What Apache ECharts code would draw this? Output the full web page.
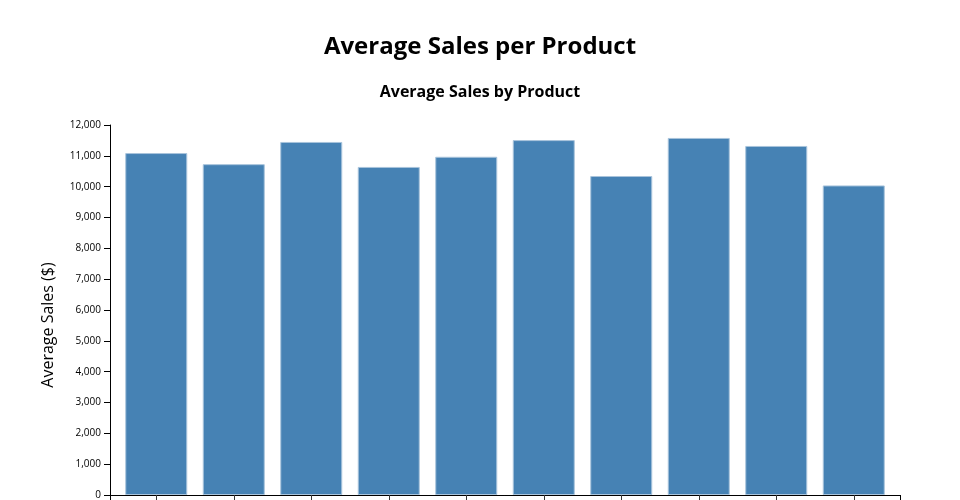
<!DOCTYPE html>
<html>
<head>
<meta charset="utf-8">
<script src="https://cdn.jsdelivr.net/npm/echarts@6/dist/echarts.min.js"></script>
<style>html,body{margin:0;padding:0;background:#fff}#chart{width:960px;height:500px}</style>
</head>
<body>
<div id="chart"></div>
<script>
const categories = ["Product A","Product B","Product C","Product D","Product E","Product F","Product G","Product H","Product I","Product J"];
const avgSales = [11090, 10730, 11450, 10640, 10970, 11510, 10345, 11580, 11320, 10040];
const yTicks = { min: 0, max: 12000, step: 1000 };
const mainTitle = "Average Sales per Product";
const subTitle = "Average Sales by Product";
const yAxisTitle = "Average Sales ($)";

const FONT = "'Open Sans', sans-serif";
const chart = echarts.init(document.getElementById('chart'), null, {renderer: 'canvas'});
const fmt = v => String(v).replace(/\B(?=(\d{3})+(?!\d))/g, ',');

chart.setOption({
  animation: false,
  title: [
    {text: mainTitle, left: 'center', top: 30,
     textStyle: {fontFamily: FONT, fontSize: 24, fontWeight: 'bold', color: '#000'}},
    {text: subTitle, left: 'center', top: 79,
     textStyle: {fontFamily: FONT, fontSize: 16, fontWeight: 'bold', color: '#000'}}
  ],
  grid: [
    {left: 110, width: 790, top: 125, height: 370, outerBoundsMode: 'none', containLabel: false},
    {left: 117.5, width: 775, top: 125, height: 370, outerBoundsMode: 'none', containLabel: false}
  ],
  xAxis: [
    {type: 'value', gridIndex: 0, min: 0, max: 10.2, interval: 10.2,
     axisLine: {show: true, lineStyle: {color: '#000', width: 1}},
     axisTick: {show: true, length: 6, lineStyle: {color: '#000'}},
     axisLabel: {show: false}, splitLine: {show: false}},
    {type: 'category', gridIndex: 1, data: categories,
     axisLine: {show: false},
     axisTick: {show: true, alignWithLabel: true, length: 6, lineStyle: {color: '#333'}},
     axisLabel: {show: false}}
  ],
  yAxis: [
    {type: 'value', gridIndex: 0, min: yTicks.min, max: yTicks.max, interval: yTicks.step,
     name: yAxisTitle, nameLocation: 'middle', nameGap: 54,
     nameTextStyle: {fontFamily: FONT, fontSize: 16, color: '#000', padding: [0, 30, 0, 0]},
     axisLine: {show: true, lineStyle: {color: '#000', width: 1}},
     axisTick: {show: true, length: 6, lineStyle: {color: '#000'}},
     axisLabel: {margin: 9, fontFamily: FONT, fontSize: 10, color: '#000', formatter: fmt},
     splitLine: {show: false}},
    {type: 'value', gridIndex: 1, min: yTicks.min, max: yTicks.max, interval: yTicks.step, show: false}
  ],
  series: [{
    type: 'bar', xAxisIndex: 1, yAxisIndex: 1, data: avgSales,
    barCategoryGap: '20%',
    itemStyle: {color: '#4682b4', borderColor: '#a9c4dc', borderWidth: 1}
  }]
});
</script>
</body>
</html>
